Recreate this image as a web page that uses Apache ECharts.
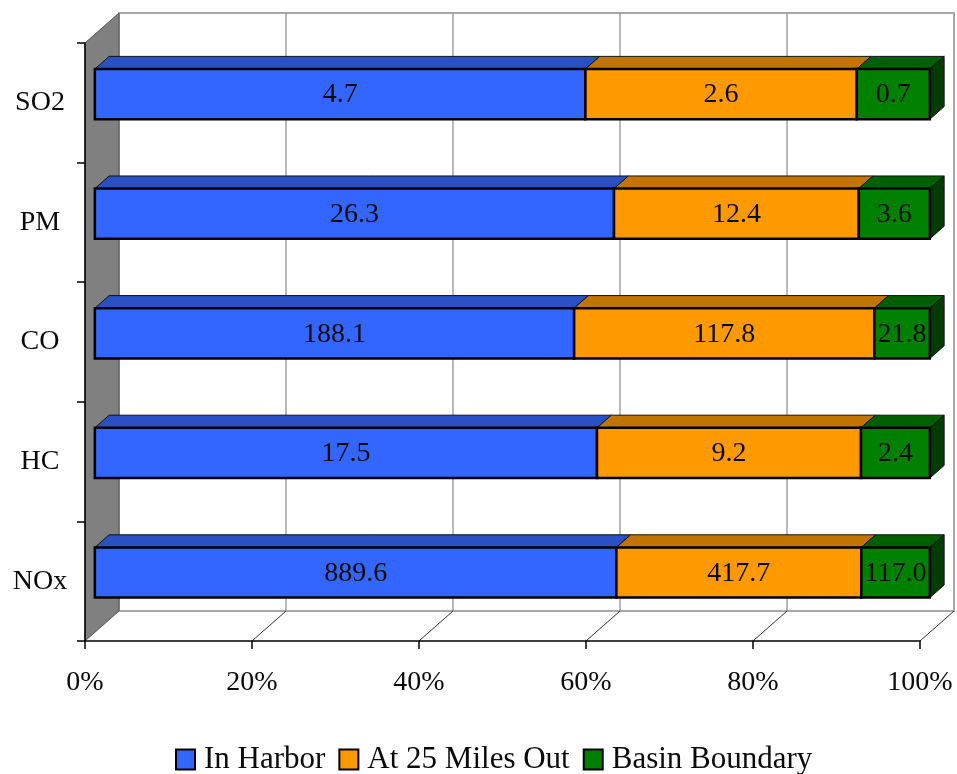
<!DOCTYPE html>
<html>
<head>
<meta charset="utf-8">
<script src="https://cdn.jsdelivr.net/npm/echarts@6/dist/echarts.min.js"></script>
<style>
  html, body { margin: 0; padding: 0; background: #ffffff; }
  #chart { width: 957px; height: 774px; }
</style>
</head>
<body>
<div id="chart"></div>
<script>
// Emissions by pollutant, split by location (100% stacked, drawn as 3-D bars)
const categories = ['SO2', 'PM', 'CO', 'HC', 'NOx'];
const inHarbor = [4.7, 26.3, 188.1, 17.5, 889.6];
const milesOut = [2.6, 12.4, 117.8, 9.2, 417.7];
const basinBoundary = [0.7, 3.6, 21.8, 2.4, 117.0];
const seriesNames = ['In Harbor', 'At 25 Miles Out', 'Basin Boundary'];
const percentTicks = [0, 20, 40, 60, 80, 100];

const seriesValues = [inHarbor, milesOut, basinBoundary];

// face colours: front, top, side
const palette = [
  { front: '#3366ff', top: '#2a50c4', side: '#1f3c96' },
  { front: '#ff9900', top: '#c27400', side: '#8f5600' },
  { front: '#008000', top: '#006000', side: '#003c00' }
];

// pixel offset from the front plane to the back wall
const DEPTH = [34, -30];
const BAR_FRONT = 0.29;   // bar front face, as a fraction of the depth
const BAR_DEPTH = 0.42;   // bar thickness, as a fraction of the depth
const BAR_HEIGHT = 0.42;  // bar height, as a fraction of the category band

const FONT = '"Liberation Serif", "Times New Roman", serif';

// cumulative percentage ranges for each stacked segment
function buildSegments(k) {
  return categories.map(function (c, i) {
    let total = 0;
    seriesValues.forEach(function (arr) { total += arr[i]; });
    let before = 0;
    for (let j = 0; j < k; j++) before += seriesValues[j][i];
    const start = before / total * 100;
    const end = (before + seriesValues[k][i]) / total * 100;
    return [start, end, i, seriesValues[k][i]];
  });
}

function renderBar(k) {
  return function (params, api) {
    const start = api.value(0), end = api.value(1), cat = api.value(2), raw = api.value(3);
    const p0 = api.coord([start, cat]);
    const p1 = api.coord([end, cat]);
    const band = api.size([0, 1])[1];
    const h = band * BAR_HEIGHT;
    const fx = DEPTH[0] * BAR_FRONT, fy = DEPTH[1] * BAR_FRONT;
    const bx = DEPTH[0] * BAR_DEPTH, by = DEPTH[1] * BAR_DEPTH;
    const x0 = p0[0] + fx, x1 = p1[0] + fx;
    const yTop = p0[1] + fy - h / 2, yBot = yTop + h;
    const col = palette[k];
    const children = [];
    children.push({
      type: 'polygon',
      shape: { points: [[x0, yTop], [x0 + bx, yTop + by], [x1 + bx, yTop + by], [x1, yTop]] },
      style: { fill: col.top, stroke: '#111', lineWidth: 1 }
    });
    if (k === seriesValues.length - 1) {
      children.push({
        type: 'polygon',
        shape: { points: [[x1, yTop], [x1 + bx, yTop + by], [x1 + bx, yBot + by], [x1, yBot]] },
        style: { fill: col.side, stroke: '#111', lineWidth: 1 }
      });
    }
    children.push({
      type: 'rect',
      shape: { x: x0, y: yTop, width: x1 - x0, height: h },
      style: { fill: col.front, stroke: '#000', lineWidth: 2.5 }
    });
    children.push({
      type: 'text',
      style: {
        text: raw.toFixed(1),
        x: (x0 + x1) / 2,
        y: yTop + h / 2 + 1,
        align: 'center',
        verticalAlign: 'middle',
        font: '28px ' + FONT,
        fill: '#0a0a0a'
      }
    });
    return { type: 'group', children: children };
  };
}

// walls, floor and back-wall gridlines, one item per percentage tick
function renderFrame(params, api) {
  const cs = params.coordSys;
  const gx = cs.x, gy = cs.y, gw = cs.width, gh = cs.height;
  const dx = DEPTH[0], dy = DEPTH[1];
  const tick = api.value(0);
  const px = api.coord([tick, 0])[0];
  const children = [];
  if (params.dataIndex === 0) {
    children.push({
      type: 'rect',
      shape: { x: gx + dx, y: gy + dy, width: gw, height: gh },
      style: { fill: '#ffffff', stroke: '#a8a8a8', lineWidth: 2 }
    });
    children.push({
      type: 'polygon',
      shape: { points: [[gx, gy], [gx + dx, gy + dy], [gx + dx, gy + gh + dy], [gx, gy + gh]] },
      style: { fill: '#808080', stroke: '#555', lineWidth: 1 }
    });
  }
  if (tick > 0 && tick < 100) {
    children.push({
      type: 'line',
      shape: { x1: px + dx, y1: gy + dy, x2: px + dx, y2: gy + gh + dy },
      style: { stroke: '#8a8a8a', lineWidth: 1.2 }
    });
  }
  if (tick > 0) {
    children.push({
      type: 'line',
      shape: { x1: px, y1: gy + gh, x2: px + dx, y2: gy + gh + dy },
      style: { stroke: '#333', lineWidth: 1 }
    });
  }
  return { type: 'group', children: children };
}

const series = [{
  type: 'custom',
  name: 'frame',
  z: 1,
  silent: true,
  renderItem: renderFrame,
  data: percentTicks.map(function (t) { return [t]; }),
  encode: { x: 0 }
}];

seriesNames.forEach(function (name, k) {
  series.push({
    type: 'custom',
    name: name,
    z: 3,
    renderItem: renderBar(k),
    itemStyle: { color: palette[k].front, borderColor: '#000', borderWidth: 2 },
    data: buildSegments(k),
    encode: { x: [0, 1], y: 2 }
  });
});

const chart = echarts.init(document.getElementById('chart'), null, { renderer: 'canvas' });
chart.setOption({
  animation: false,
  backgroundColor: '#ffffff',
  grid: { left: 85, right: 37, top: 43, bottom: 133 },
  xAxis: {
    type: 'value',
    min: 0,
    max: 100,
    interval: 20,
    z: 5,
    axisLine: { show: true, lineStyle: { color: '#000', width: 1.5 } },
    axisTick: { show: true, length: 8, lineStyle: { color: '#000', width: 1.5 } },
    splitLine: { show: false },
    axisLabel: {
      margin: 28,
      formatter: '{value}%',
      fontFamily: FONT,
      fontSize: 28,
      color: '#0a0a0a'
    }
  },
  yAxis: {
    type: 'category',
    data: categories,
    inverse: true,
    z: 5,
    axisLine: { show: true, lineStyle: { color: '#000', width: 1.5 } },
    axisTick: { show: true, length: 8, lineStyle: { color: '#000', width: 1.5 } },
    axisLabel: {
      margin: 45,
      align: 'center',
      fontFamily: FONT,
      fontSize: 28,
      color: '#0a0a0a'
    }
  },
  legend: {
    data: seriesNames,
    left: 170,
    top: 739,
    icon: 'rect',
    itemWidth: 19,
    itemHeight: 20,
    itemGap: 13,
    itemStyle: { borderColor: '#000', borderWidth: 2 },
    textStyle: { fontFamily: FONT, fontSize: 31, color: '#0a0a0a', padding: [0, 0, 0, 4] }
  },
  series: series
});
</script>
</body>
</html>
